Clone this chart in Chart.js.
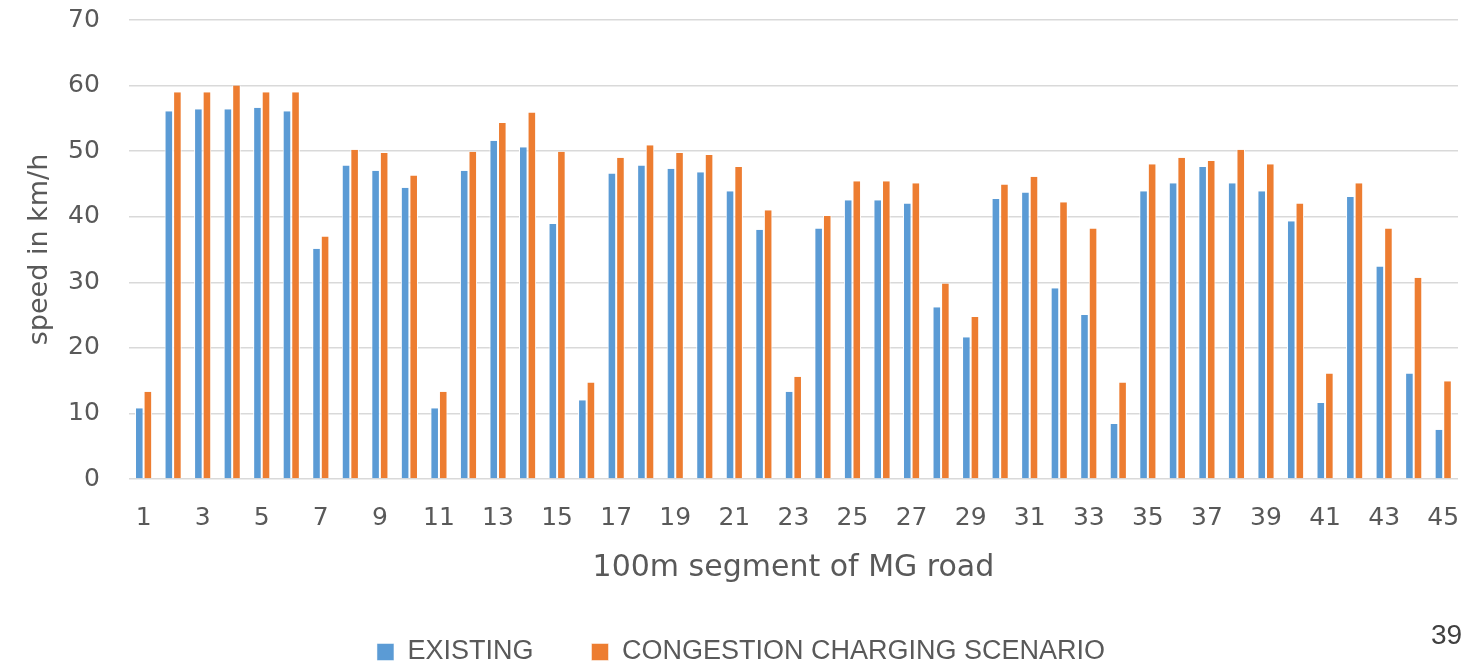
<!DOCTYPE html>
<html>
<head>
<meta charset="utf-8">
<script src="https://cdn.jsdelivr.net/npm/chart.js@4"></script>
<style>
  html, body { margin: 0; padding: 0; background: #fff; }
  #wrap { position: relative; width: 1484px; height: 666px; }
  #pageNo { position: absolute; left: 1431px; top: 619px; font: 28px "Liberation Sans Narrow", "Liberation Sans", sans-serif; color: #404040; }
</style>
</head>
<body>
<div id="wrap">
  <canvas id="myChart" width="1484" height="666"></canvas>
  <div id="pageNo">39</div>
</div>
<script>
// 100m segments of MG road
const segments = Array.from({ length: 45 }, (_, i) => String(i + 1));

const existing = [
  10.8, 56.1, 56.4, 56.4, 56.6, 56.1, 35.1, 47.8, 47.0, 44.4,
  10.8, 47.0, 51.6, 50.6, 38.9, 12.0, 46.6, 47.8, 47.3, 46.8,
  43.9, 38.0, 13.3, 38.2, 42.5, 42.5, 42.0, 26.2, 21.6, 42.7,
  43.7, 29.1, 25.0, 8.4, 43.9, 45.1, 47.6, 45.1, 43.9, 39.3,
  11.6, 43.0, 32.4, 16.1, 7.5
];

const congestionCharging = [
  13.3, 59.0, 59.0, 60.0, 59.0, 59.0, 37.0, 50.2, 49.7, 46.3,
  13.3, 49.9, 54.3, 55.9, 49.9, 14.7, 49.0, 50.9, 49.7, 49.4,
  47.6, 41.0, 15.6, 40.1, 45.4, 45.4, 45.1, 29.8, 24.7, 44.9,
  46.1, 42.2, 38.2, 14.7, 48.0, 49.0, 48.5, 50.2, 48.0, 42.0,
  16.1, 45.1, 38.2, 30.7, 14.9
];

const yTicks = [0, 10, 20, 30, 40, 50, 60, 70];

const grey = "#595959";
const font = "'DejaVu Sans', sans-serif";

// legend needs wide gaps between items but a short box at the bottom
const legendHeight = {
  id: "legendHeight",
  afterInit(chart) {
    const lg = chart.legend;
    const fit = lg.fit;
    lg.fit = function () {
      fit.call(this);
      this.height = 85.5;
    };
  },
};

const ctx = document.getElementById("myChart");
new Chart(ctx, {
  type: "bar",
  data: {
    labels: segments,
    datasets: [
      {
        label: "EXISTING",
        data: existing,
        backgroundColor: "#5B9BD5",
        borderColor: "#ffffff",
        borderWidth: { left: 1, right: 1, top: 0, bottom: 0 },
        categoryPercentage: 0.58,
        barPercentage: 1,
      },
      {
        label: "CONGESTION CHARGING SCENARIO",
        data: congestionCharging,
        backgroundColor: "#ED7D31",
        borderColor: "#ffffff",
        borderWidth: { left: 1, right: 1, top: 0, bottom: 0 },
        categoryPercentage: 0.58,
        barPercentage: 1,
      },
    ],
  },
  plugins: [legendHeight],
  options: {
    responsive: false,
    animation: false,
    layout: { padding: { top: 20, left: 24, right: 26, bottom: 0 } },
    plugins: {
      tooltip: { enabled: false },
      legend: {
        position: "bottom",
        labels: {
          boxWidth: 17,
          boxHeight: 17,
          padding: 58,
          color: grey,
          font: { family: "'Liberation Sans Narrow', 'Liberation Sans', sans-serif", size: 27 },
        },
      },
    },
    scales: {
      x: {
        grid: { display: false, drawTicks: true, tickLength: 24 },
        border: { display: false },
        ticks: {
          autoSkip: false,
          maxRotation: 0,
          padding: 0,
          color: grey,
          font: { family: font, size: 25 },
          callback: function (value, index) {
            return index % 2 === 0 ? segments[index] : "";
          },
        },
        title: {
          display: true,
          text: "100m segment of MG road",
          color: grey,
          font: { family: font, size: 30 },
          padding: { top: 17, bottom: -5.5 },
        },
      },
      y: {
        min: 0,
        max: 70,
        afterBuildTicks: function (axis) {
          axis.ticks = yTicks.map((v) => ({ value: v }));
        },
        grid: { color: "#d9d9d9", lineWidth: 1.5, drawTicks: true, tickLength: 29, tickColor: "rgba(0,0,0,0)" },
        border: { display: false },
        ticks: {
          padding: 0,
          color: grey,
          font: { family: font, size: 25 },
        },
        title: {
          display: true,
          text: "speed in km/h",
          color: grey,
          font: { family: font, size: 27 },
          padding: { top: 0, bottom: 11.6 },
        },
      },
    },
  },
});
</script>
</body>
</html>
